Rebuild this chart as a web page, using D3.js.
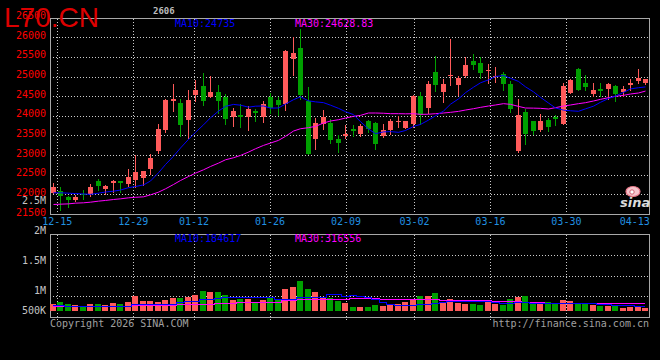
<!DOCTYPE html>
<html>
<head>
<meta charset="utf-8">
<script src="https://cdn.jsdelivr.net/npm/d3@7"></script>
<style>
  body { margin: 0; background: #000; }
  svg { display: block; }
  text { font-family: "DejaVu Sans Mono", monospace; font-size: 10px; }
</style>
</head>
<body>
<div id="chart"></div>
<script>
// Daily K-line data
const dates = ["12-12","12-15","12-16","12-17","12-18","12-19","12-22","12-23","12-24","12-25",
  "12-26","12-29","12-30","12-31","01-05","01-06","01-07","01-08","01-09","01-12",
  "01-13","01-14","01-15","01-16","01-19","01-20","01-21","01-22","01-23","01-26",
  "01-27","01-28","01-29","01-30","02-02","02-03","02-04","02-05","02-06","02-09",
  "02-10","02-11","02-12","02-13","02-24","02-25","02-26","02-27","03-02","03-03",
  "03-04","03-05","03-06","03-09","03-10","03-11","03-12","03-13","03-16","03-17",
  "03-18","03-19","03-20","03-23","03-24","03-25","03-26","03-27","03-30","03-31",
  "04-01","04-02","04-03","04-07","04-08","04-09","04-10","04-13","04-14","04-15"];

const opens = [22040,22080,21940,21850,22005,22010,22330,22130,22280,22330,
  22270,22360,22420,22635,23095,23630,24370,24317,23900,24540,
  24768,24487,24615,24487,23960,24028,23960,24113,23960,24487,
  24411,24291,25439,25736,24377,23416,23798,23816,23416,23493,
  23662,23543,23858,23824,23475,23629,23833,23697,23798,24513,
  24207,25125,24615,25005,24776,25005,25405,25354,25141,24988,
  25056,24819,23093,24105,23875,23645,23900,23977,23798,24581,
  25201,24844,24564,24683,24691,24768,24598,24793,24895,24827];

const highs = [22290,22190,21960,21980,22115,22270,22390,22230,22355,22340,
  22655,23000,22600,23035,23800,24420,24820,24436,24665,24910,
  25090,25014,24793,24564,24200,24290,24250,24181,24377,24590,
  24487,25685,26008,26204,24725,23952,24147,23910,23500,23773,
  23756,23798,23900,23830,23798,23926,23994,23880,24521,24615,
  24895,25532,24929,25966,25022,25490,25583,25498,25328,25243,
  25116,24895,24436,24181,23880,24053,23934,24028,24844,24929,
  25205,25031,24844,24844,24844,24775,24768,24929,25201,24935];

const lows = [22040,21600,21680,21830,21870,21950,22100,22010,22060,22060,
  22225,22180,22250,22530,23060,23580,24130,23493,23435,24380,
  24266,24470,24080,23800,23750,23705,23645,23858,23832,24080,
  24028,24155,25048,24436,23030,23144,23671,23297,23084,23441,
  23492,23492,23586,23161,23458,23527,23714,23690,23714,23798,
  24079,24640,24360,24793,24521,25000,25201,24963,24835,24861,
  24649,24087,23090,23271,23543,23603,23603,23756,23790,24575,
  24645,24649,24504,24513,24427,24377,24513,24665,24835,24801];

const closes = [22195,21950,21850,21940,21975,22190,22225,22220,22350,22290,
  22430,22575,22585,22930,23660,24400,24430,23756,24410,24665,
  24368,24615,24368,23926,24113,23960,24180,24062,24308,24198,
  24283,25660,25609,24538,23033,23824,23977,23374,23314,23544,
  23603,23747,23671,23271,23645,23858,23858,23858,24495,24011,
  24819,24793,24801,25031,24971,25303,25303,25090,25175,25022,
  24801,24181,24028,23543,23611,23875,23713,23926,24751,24904,
  24649,24725,24665,24632,24801,24547,24674,24844,24971,24929];

const ma10 = [22040,22040,22030,22020,22010,22000,22030,22060,22080,22110,
  22170,22200,22240,22340,22550,22760,22970,23180,23400,23580,
  23770,23950,24120,24240,24290,24270,24220,24245,24250,24195,
  24200,24300,24410,24485,24380,24355,24335,24270,24190,24105,
  24030,23850,23665,23545,23590,23597,23580,23625,23730,23780,
  23890,24000,24120,24295,24430,24590,24728,24840,24915,25000,
  25025,24955,24875,24738,24610,24470,24325,24200,24145,24128,
  24115,24177,24245,24344,24440,24505,24595,24685,24715,24735];

const ma30 = [21742,21750,21758,21776,21785,21801,21827,21845,21869,21886,
  21912,21925,21937,21988,22056,22141,22251,22353,22455,22540,
  22625,22710,22795,22880,22932,22991,23076,23161,23246,23306,
  23374,23476,23612,23671,23697,23731,23816,23867,23900,23943,
  23986,24011,24071,24071,24065,24054,24054,24050,24054,24037,
  24040,24054,24071,24088,24113,24147,24181,24215,24249,24275,
  24309,24291,24240,24198,24195,24190,24173,24207,24249,24275,
  24309,24334,24377,24419,24462,24496,24521,24555,24581,24629];

const volumes = [277000,356000,277000,224000,198000,277000,277000,224000,303000,277000,
  356000,607000,396000,396000,356000,435000,515000,515000,554000,633000,
  792000,752000,752000,633000,435000,475000,475000,356000,435000,515000,
  435000,871000,950000,1187000,871000,752000,515000,515000,396000,317000,
  158000,158000,158000,237000,185000,277000,277000,356000,475000,594000,
  594000,712000,317000,475000,317000,277000,277000,237000,356000,277000,
  237000,475000,554000,594000,356000,317000,356000,317000,435000,396000,
  317000,317000,237000,198000,198000,198000,119000,158000,158000,119000];

const volMa10 = [224000,224000,211000,198000,198000,198000,198000,198000,198000,198000,
  198000,264000,264000,264000,264000,264000,264000,356000,383000,409000,
  475000,488000,515000,541000,541000,541000,541000,541000,541000,541000,
  462000,462000,462000,567000,567000,567000,567000,660000,660000,607000,
  620000,594000,541000,462000,356000,264000,237000,237000,237000,277000,
  277000,317000,356000,383000,383000,383000,383000,383000,383000,356000,
  330000,330000,356000,356000,330000,317000,317000,317000,317000,317000,
  317000,317000,317000,277000,277000,237000,237000,237000,200000,184617];

const volMa30 = [185000,185000,185000,185000,185000,185000,185000,185000,185000,185000,
  185000,224000,224000,224000,224000,224000,224000,277000,277000,277000,
  277000,277000,317000,317000,317000,356000,356000,356000,356000,356000,
  356000,422000,422000,488000,488000,488000,488000,488000,488000,488000,
  515000,515000,515000,515000,475000,475000,475000,475000,475000,475000,
  475000,475000,435000,435000,435000,435000,435000,435000,435000,383000,
  383000,383000,383000,356000,356000,356000,330000,330000,330000,330000,
  330000,330000,330000,330000,330000,303000,303000,303000,303000,316556];

const priceGrid = [22000,22500,23000,23500,24000,24500,25000,25500,26000];
const priceLabels = [21500,22000,22500,23000,23500,24000,24500,25000,25500,26000,26500];
const volLabels = [2500000,2000000,1500000,1000000,500000];
const dateTicks = ["12-15","12-29","01-12","01-26","02-09","03-02","03-16","03-30","04-13"];

const width = 660, height = 360;
const left = 50, right = 649;
const volTop = 235, volBottom = 318;

const red = "#ff5a5a", green = "#00a000";
const gridColor = "#cccccc", borderColor = "#a8a8a8";

const svg = d3.select("#chart").append("svg")
  .attr("width", width)
  .attr("height", height)
  .style("background", "#000");

const idx = d3.range(dates.length);

// candles sit in bands, the date grid uses its own spacing
const x = d3.scaleBand().domain(dates).range([49, 649]);
const xTick = d3.scalePoint().domain(dates).range([49.7, 650]);
const y = d3.scaleLinear().domain([21500, 26500]).range([214, 17.6]);
const yVol = d3.scaleLinear().domain([0, 3020000]).range([311, 234.7]);
const yVolLabel = d3.scaleLinear().domain([1000000, 2500000]).range([294.3, 203.6]);

const cx = i => Math.round(x(dates[i]) + x.bandwidth() / 2);
const px = v => Math.round(v) + 0.5;

// grids
const grid = svg.append("g").attr("stroke", gridColor).attr("stroke-dasharray", "1,2")
  .attr("shape-rendering", "crispEdges");

grid.selectAll(".hgrid")
  .data(priceGrid)
  .enter().append("line")
  .attr("x1", left).attr("x2", right)
  .attr("y1", d => px(y(d))).attr("y2", d => px(y(d)));

for (let k = 1; k <= 3; k++) {
  let gy = px(volTop + k * (volBottom - volTop - 1.5) / 4);
  grid.append("line").attr("x1", left).attr("x2", right).attr("y1", gy).attr("y2", gy);
}

const gridDates = dateTicks.slice(0, -1);
grid.selectAll(".vgrid")
  .data(gridDates)
  .enter().append("line")
  .attr("x1", d => px(xTick(d))).attr("x2", d => px(xTick(d)))
  .attr("y1", px(y(26500))).attr("y2", px(y(21500)));

grid.selectAll(".vgrid2")
  .data(gridDates)
  .enter().append("line")
  .attr("x1", d => px(xTick(d))).attr("x2", d => px(xTick(d)))
  .attr("y1", volTop).attr("y2", volBottom + 3);

// panel borders
svg.append("rect")
  .attr("x", left + 0.5).attr("y", px(y(26500)))
  .attr("width", right - left).attr("height", Math.round(y(21500)) - Math.round(y(26500)))
  .attr("fill", "none").attr("stroke", borderColor).attr("shape-rendering", "crispEdges");

svg.append("rect")
  .attr("x", left + 0.5).attr("y", volTop - 0.5)
  .attr("width", right - left).attr("height", volBottom - volTop)
  .attr("fill", "none").attr("stroke", borderColor).attr("shape-rendering", "crispEdges");

// price labels
svg.selectAll(".plabel")
  .data(priceLabels)
  .enter().append("text")
  .attr("x", 46)
  .attr("y", d => y(d) + 1.5)
  .attr("text-anchor", "end")
  .attr("fill", "#ff0000")
  .text(d => d);

// volume labels (bottom one is held inside the panel)
svg.selectAll(".vlabel")
  .data(volLabels)
  .enter().append("text")
  .attr("x", 46)
  .attr("y", d => Math.min(yVolLabel(d), 314.3))
  .attr("text-anchor", "end")
  .attr("fill", "#c4c4c4")
  .text(d => d >= 1000000 ? (d / 1000000) + "M" : (d / 1000) + "K");

// date labels
svg.selectAll(".dlabel")
  .data(dateTicks)
  .enter().append("text")
  .attr("x", d => xTick(d))
  .attr("y", 224.8)
  .attr("text-anchor", "middle")
  .attr("fill", "#2090e0")
  .text(d => d);

// candles
const up = i => closes[i] >= opens[i];
const candles = svg.append("g").attr("shape-rendering", "crispEdges");

candles.selectAll(".wick")
  .data(idx)
  .enter().append("line")
  .attr("x1", i => cx(i) + 0.5).attr("x2", i => cx(i) + 0.5)
  .attr("y1", i => Math.round(y(highs[i])))
  .attr("y2", i => Math.round(y(lows[i])) + 1)
  .attr("stroke", i => up(i) ? red : green);

candles.selectAll(".body")
  .data(idx)
  .enter().append("rect")
  .attr("x", i => cx(i) - 2)
  .attr("width", 5)
  .attr("y", i => Math.round(y(Math.max(opens[i], closes[i]))))
  .attr("height", i => Math.max(1, Math.round(y(Math.min(opens[i], closes[i]))) - Math.round(y(Math.max(opens[i], closes[i])))))
  .attr("fill", i => up(i) ? red : green);

// moving averages on price
const priceLine = arr => d3.line()
  .x(i => cx(i) + 0.5)
  .y(i => y(arr[i]));

svg.append("path").datum(idx).attr("d", priceLine(ma30))
  .attr("fill", "none").attr("stroke", "#ff00ff").attr("stroke-width", 1);
svg.append("path").datum(idx).attr("d", priceLine(ma10))
  .attr("fill", "none").attr("stroke", "#0000ff").attr("stroke-width", 1);

// volume bars
svg.append("g").attr("shape-rendering", "crispEdges")
  .selectAll(".vbar")
  .data(idx)
  .enter().append("rect")
  .attr("x", i => cx(i) - 3)
  .attr("width", 6)
  .attr("y", i => Math.round(yVol(volumes[i])))
  .attr("height", i => Math.round(yVol(0)) - Math.round(yVol(volumes[i])))
  .attr("fill", i => up(i) ? red : green);

const volLine = arr => d3.line()
  .curve(d3.curveStep)
  .x(i => cx(i))
  .y(i => px(yVol(arr[i])));

svg.append("path").datum(idx).attr("d", volLine(volMa30))
  .attr("fill", "none").attr("stroke", "#ff00ff").attr("shape-rendering", "crispEdges");
svg.append("path").datum(idx).attr("d", volLine(volMa10))
  .attr("fill", "none").attr("stroke", "#0000ff").attr("shape-rendering", "crispEdges");

// MA captions
svg.append("text").attr("x", 175).attr("y", 26.5).attr("fill", "#0000ff")
  .text("MA10:" + ma10[ma10.length - 1]);
svg.append("text").attr("x", 295).attr("y", 26.5).attr("fill", "#ff00ff")
  .text("MA30:24628.83");
svg.append("text").attr("x", 175).attr("y", 242).attr("fill", "#0000ff")
  .text("MA10:" + volMa10[volMa10.length - 1]);
svg.append("text").attr("x", 295).attr("y", 242).attr("fill", "#ff00ff")
  .text("MA30:" + volMa30[volMa30.length - 1]);

// header and footer
svg.append("text").attr("x", 153).attr("y", 13.5).attr("fill", "#bbbbbb")
  .style("font-size", "9px").style("font-weight", "bold")
  .text("2606");

svg.append("text").attr("x", 4).attr("y", 27)
  .attr("fill", "#dd0000")
  .style("font-family", "'Liberation Sans', Arial, sans-serif")
  .style("font-size", "28px")
  .text("L70.CN");

svg.append("text").attr("x", 50).attr("y", 327.3).attr("fill", "#a0a0a0")
  .text("Copyright 2026 SINA.COM");
svg.append("text").attr("x", 649).attr("y", 327.3).attr("fill", "#a0a0a0")
  .attr("text-anchor", "end")
  .text("http://finance.sina.com.cn");

// sina logo, roughly
const logo = svg.append("g");
logo.append("ellipse").attr("cx", 633).attr("cy", 191.5).attr("rx", 7).attr("ry", 5)
  .attr("fill", "#f6c4cc").attr("stroke", "#e87888").attr("stroke-width", 1.2);
logo.append("circle").attr("cx", 632).attr("cy", 192).attr("r", 2.2)
  .attr("fill", "#fff").attr("stroke", "#d06070");
logo.append("text").attr("x", 620).attr("y", 207)
  .attr("fill", "#dcdcdc")
  .style("font-family", "'DejaVu Sans', sans-serif")
  .style("font-size", "13px").style("font-weight", "bold").style("font-style", "italic")
  .text("sina");
</script>
</body>
</html>
